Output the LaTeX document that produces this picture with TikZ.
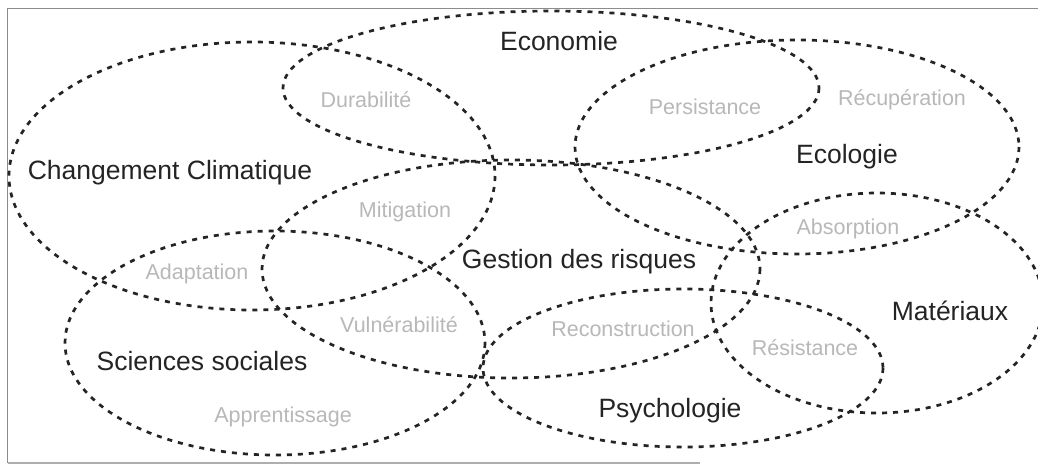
\documentclass[tikz,border=0pt]{standalone}
\usepackage{fontspec}
\setmainfont{Liberation Sans}
\definecolor{ink}{HTML}{242424}
\definecolor{soft}{HTML}{B8B8B8}
\definecolor{frame}{HTML}{8C8C8C}
\begin{document}
\begin{tikzpicture}[x=1pt,y=-1pt,
  zone/.style={draw=ink,line width=2.7pt,dash pattern=on 5pt off 6pt},
  field/.style={text=ink,font=\fontsize{26.5}{30}\selectfont,inner sep=0pt},
  trait/.style={text=soft,font=\fontsize{21.5}{25}\selectfont,inner sep=0pt}]
\useasboundingbox (0,0) rectangle (1038,466);
\fill[white] (0,0) rectangle (1038,466);
% page frame
\draw[frame,line width=1.6pt] (1038,8.5) -- (7.5,8.5) -- (7.5,463);
\draw[frame!70,line width=1.6pt] (7.5,463) -- (700,463);
% discipline ellipses
\draw[zone] (252,176) ellipse (243 and 134);
\draw[zone] (551,88) ellipse (268 and 77);
\draw[zone] (797,147) ellipse (222 and 107);
\draw[zone] (511,269) ellipse (249 and 109);
\draw[zone] (275,343) ellipse (210 and 112);
\draw[zone] (683,368) ellipse (200 and 79);
\draw[zone] (877,303) ellipse (166 and 110);
% discipline names
\node[field] (eco) at (559,41) {Economie};
\node[field] (cc) at (170,173) {Changement Climatique};
\node[field] (ecol) at (847,157) {Ecologie};
\node[field] (gr) at (579,262) {Gestion des risques};
\node[field] (ss) at (202,361) {Sciences sociales};
\node[field] (psy) at (670,411) {Psychologie};
\node[field] (mat) at (950,311) {Matériaux};
% shared properties
\node[trait] (dur) at (366,100) {Durabilité};
\node[trait] (per) at (705,107) {Persistance};
\node[trait] (rec) at (902,100) {Récupération};
\node[trait] (mit) at (405,212) {Mitigation};
\node[trait] (abs) at (848,229) {Absorption};
\node[trait] (ada) at (197,274) {Adaptation};
\node[trait] (vul) at (399,325) {Vulnérabilité};
\node[trait] (recon) at (623,329) {Reconstruction};
\node[trait] (res) at (805,348) {Résistance};
\node[trait] (app) at (283,417) {Apprentissage};
\end{tikzpicture}
\end{document}
